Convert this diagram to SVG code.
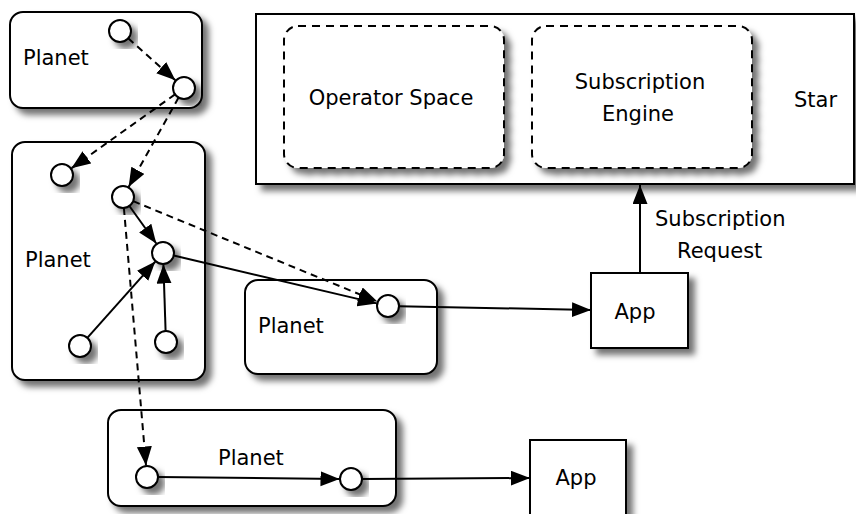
<svg xmlns="http://www.w3.org/2000/svg" width="856" height="514" viewBox="0 0 856 514">
<style>
.box{fill:#fff;stroke:#000;stroke-width:2}
.dbox{fill:#fff;stroke:#000;stroke-width:2;stroke-dasharray:8 6}
.pt{fill:#fff;stroke:#000;stroke-width:2}
.lbl{font-family:"DejaVu Sans",sans-serif;font-size:21px;fill:#000}
.c{text-anchor:middle}
.s{fill:none;stroke:#000;stroke-width:2}
.d{fill:none;stroke:#000;stroke-width:2;stroke-dasharray:7 5}
</style>
<defs>
<filter id="sh" x="-20%" y="-20%" width="150%" height="150%">
<feDropShadow dx="6" dy="6" stdDeviation="3" flood-color="#000" flood-opacity="0.55"/>
</filter>
<marker id="ah" markerUnits="userSpaceOnUse" markerWidth="22" markerHeight="16" refX="19" refY="7.5" orient="auto">
<path d="M0,0 L19,7.5 L0,15 z" fill="#000"/>
</marker>
</defs>
<g id="star">
<rect class="box" x="256" y="14" width="598" height="170" filter="url(#sh)" stroke-width="2.5"/>
<text class="lbl" x="794" y="107">Star</text>
</g>
<g id="operator-space">
<rect class="dbox" x="284" y="26" width="220" height="142" rx="14" filter="url(#sh)"/>
<text class="lbl c" x="391" y="105">Operator Space</text>
</g>
<g id="subscription-engine">
<rect class="dbox" x="532" y="26" width="220" height="142" rx="14" filter="url(#sh)"/>
<text class="lbl c" x="640" y="89">Subscription</text>
<text class="lbl c" x="638" y="121">Engine</text>
</g>
<g id="planet1">
<rect class="box" x="10" y="12" width="192" height="96" rx="13" filter="url(#sh)"/>
<text class="lbl" x="23" y="65">Planet</text>
</g>
<g id="planet2">
<rect class="box" x="12" y="142" width="193" height="238" rx="13" filter="url(#sh)"/>
<text class="lbl" x="25" y="267">Planet</text>
</g>
<g id="planet3">
<rect class="box" x="245" y="280" width="192" height="94" rx="13" filter="url(#sh)"/>
<text class="lbl" x="258" y="333">Planet</text>
</g>
<g id="planet4">
<rect class="box" x="108" y="410" width="288" height="96" rx="13" filter="url(#sh)"/>
<text class="lbl" x="218" y="465">Planet</text>
</g>
<g id="app1">
<rect class="box" x="591" y="273" width="97" height="75" filter="url(#sh)"/>
<text class="lbl c" x="635" y="319">App</text>
</g>
<g id="app2">
<rect class="box" x="530" y="440" width="96" height="80" filter="url(#sh)"/>
<text class="lbl c" x="576" y="485">App</text>
</g>
<g id="points">
<circle id="c1" class="pt" cx="120" cy="31" r="11" filter="url(#sh)"/>
<circle id="c2" class="pt" cx="184" cy="88" r="11" filter="url(#sh)"/>
<circle id="c3" class="pt" cx="62" cy="175" r="11" filter="url(#sh)"/>
<circle id="c4" class="pt" cx="123" cy="197" r="11" filter="url(#sh)"/>
<circle id="c5" class="pt" cx="163" cy="253" r="11" filter="url(#sh)"/>
<circle id="c6" class="pt" cx="80" cy="346" r="11" filter="url(#sh)"/>
<circle id="c7" class="pt" cx="166" cy="342" r="11" filter="url(#sh)"/>
<circle id="c8" class="pt" cx="388" cy="306" r="11" filter="url(#sh)"/>
<circle id="c9" class="pt" cx="147" cy="477" r="11" filter="url(#sh)"/>
<circle id="c10" class="pt" cx="351" cy="479" r="11" filter="url(#sh)"/>
</g>
<g id="connectors">
<line class="d" x1="128.2" y1="38.3" x2="175.4" y2="80.3" marker-end="url(#ah)"/>
<line class="d" x1="175" y1="94.4" x2="71.4" y2="168.3" marker-end="url(#ah)"/>
<line class="d" x1="178.6" y1="97.6" x2="128.6" y2="186.9" marker-end="url(#ah)"/>
<line class="s" x1="129.4" y1="206" x2="156.3" y2="243.5" marker-end="url(#ah)"/>
<line class="d" x1="133.2" y1="201.2" x2="377.4" y2="301.6" marker-end="url(#ah)"/>
<line class="s" x1="173.7" y1="255.5" x2="376.8" y2="303.4" marker-end="url(#ah)"/>
<line class="s" x1="87.3" y1="337.8" x2="155.3" y2="261.6" marker-end="url(#ah)"/>
<line class="s" x1="165.6" y1="331" x2="163.4" y2="264.5" marker-end="url(#ah)"/>
<line class="d" x1="123.9" y1="208" x2="146" y2="465.5" marker-end="url(#ah)"/>
<line class="s" x1="158" y1="477.1" x2="339.5" y2="478.9" marker-end="url(#ah)"/>
<line class="s" x1="362" y1="479" x2="530" y2="478" marker-end="url(#ah)"/>
<line class="s" x1="399" y1="306.2" x2="591" y2="310" marker-end="url(#ah)"/>
<line class="s" x1="640" y1="273" x2="640" y2="185" marker-end="url(#ah)"/>
<text class="lbl" x="655" y="226">Subscription</text>
<text class="lbl" x="677" y="258">Request</text>
</g>
</svg>
